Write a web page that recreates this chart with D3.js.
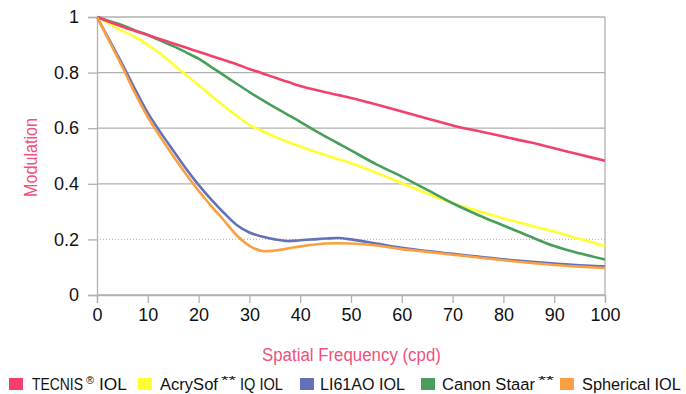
<!DOCTYPE html>
<html>
<head>
<meta charset="utf-8">
<script src="https://cdn.jsdelivr.net/npm/d3@7.8.5/dist/d3.min.js"></script>
<style>
  body { margin: 0; background: #fff; }
  svg { display: block; }
</style>
</head>
<body>
<div id="chart"></div>
<script>
// spatial frequency (cpd)
const freq = [0, 2.5, 5, 7.5, 10, 12.5, 15, 17.5, 20, 22.5, 25, 27.5, 30, 32.5, 35, 37.5, 40,
  42.5, 45, 47.5, 50, 55, 60, 65, 70, 75, 80, 85, 90, 95, 100];

const tecnis = [1, 0.982, 0.965, 0.95, 0.935, 0.92, 0.905, 0.89, 0.875, 0.86, 0.845, 0.83, 0.813,
  0.798, 0.782, 0.767, 0.752, 0.74, 0.729, 0.719, 0.709, 0.685, 0.66, 0.635, 0.61, 0.59, 0.57,
  0.55, 0.528, 0.505, 0.483];
const acrysof = [1, 0.975, 0.95, 0.928, 0.9, 0.868, 0.83, 0.792, 0.755, 0.717, 0.68, 0.645, 0.612,
  0.59, 0.57, 0.551, 0.534, 0.518, 0.503, 0.488, 0.474, 0.44, 0.402, 0.365, 0.33, 0.302, 0.276,
  0.252, 0.228, 0.202, 0.176];
const li61ao = [1, 0.915, 0.83, 0.74, 0.655, 0.585, 0.52, 0.455, 0.396, 0.343, 0.295, 0.252, 0.225,
  0.21, 0.2, 0.194, 0.197, 0.2, 0.203, 0.205, 0.2, 0.185, 0.17, 0.158, 0.148, 0.138, 0.128,
  0.12, 0.113, 0.107, 0.102];
const canon = [1, 0.985, 0.97, 0.952, 0.935, 0.915, 0.895, 0.873, 0.85, 0.82, 0.79, 0.76, 0.73,
  0.702, 0.675, 0.649, 0.623, 0.596, 0.57, 0.545, 0.52, 0.47, 0.426, 0.378, 0.33, 0.288, 0.25,
  0.212, 0.176, 0.15, 0.128];
const spherical = [1, 0.91, 0.82, 0.725, 0.64, 0.568, 0.5, 0.435, 0.375, 0.32, 0.268, 0.215, 0.177,
  0.158, 0.16, 0.167, 0.175, 0.181, 0.185, 0.186, 0.185, 0.178, 0.165, 0.155, 0.145, 0.135, 0.125,
  0.116, 0.108, 0.102, 0.097];

const seriesValues = [tecnis, acrysof, li61ao, canon, spherical];
const seriesColors = ["#f2426b", "#ffff33", "#6272b9", "#4a9e5c", "#fba040"];
// legend labels, split where a superscript sits
const legendLabels = [
  ["TECNIS", "\u00AE", "IOL"],
  ["AcrySof", "**", "IQ IOL"],
  ["LI61AO IOL"],
  ["Canon Staar", "**"],
  ["Spherical IOL"]
];
// order in which lines are painted (bottom first)
const drawOrder = [1, 3, 0, 2, 4];

const xTicks = [0, 10, 20, 30, 40, 50, 60, 70, 80, 90, 100];
const yTicks = [0, 0.2, 0.4, 0.6, 0.8, 1];

const width = 686;
const height = 394;
const margin = { top: 17, right: 81, bottom: 99, left: 97 };

const svg = d3.select("#chart").append("svg")
  .attr("width", width)
  .attr("height", height);

const x = d3.scaleLinear().domain([0, 100]).range([margin.left, width - margin.right]);
const y = d3.scaleLinear().domain([0, 1]).range([height - margin.bottom, margin.top]);

const gridColor = "#b0b0b0";
const pink = "#f2507a";
const font = "'Liberation Sans', Arial, sans-serif";

// squeeze a text horizontally to a given width (mimics the condensed face)
function condensed(parent, str, px, py, w, size, fill, rotate) {
  const t = parent.append("text")
    .style("font-family", font)
    .style("font-size", size + "px")
    .style("fill", fill)
    .text(str);
  const natural = t.node().getComputedTextLength();
  const sx = w / natural;
  t.attr("transform", `translate(${px},${py})${rotate ? " rotate(-90)" : ""} scale(${sx},1)`);
  return t;
}

// horizontal grid
svg.append("g")
  .selectAll("line")
  .data(yTicks)
  .join("line")
  .attr("x1", x(0))
  .attr("x2", x(100))
  .attr("y1", d => y(d))
  .attr("y2", d => y(d))
  .attr("stroke", d => d === 0.2 ? "#f4a0b4" : gridColor)
  .attr("stroke-dasharray", d => d === 0.2 ? "1,2" : null)
  .attr("stroke-width", 1.3);

// right frame
svg.append("line")
  .attr("x1", x(100)).attr("x2", x(100))
  .attr("y1", y(1)).attr("y2", y(0))
  .attr("stroke", gridColor)
  .attr("stroke-width", 1.3);

// axes
svg.append("g")
  .attr("transform", `translate(0,${y(0)})`)
  .call(d3.axisBottom(x).tickValues(xTicks).tickSize(8).tickPadding(5).tickFormat(d3.format("d")));

svg.append("g")
  .attr("transform", `translate(${x(0)},0)`)
  .call(d3.axisLeft(y).tickValues(yTicks).tickSize(9).tickPadding(9)
    .tickFormat(d => d === 0 || d === 1 ? d : d3.format(".1f")(d)));

svg.selectAll(".domain").attr("stroke", gridColor).attr("stroke-width", 1.3);
svg.selectAll(".tick line").attr("stroke", gridColor).attr("stroke-width", 1.3);
svg.selectAll(".tick text")
  .style("font-family", font)
  .style("font-size", "18px")
  .style("fill", "#111");

// lines
const line = d3.line()
  .x((d, i) => x(freq[i]))
  .y(d => y(d))
  .curve(d3.curveCatmullRom.alpha(0.5));

svg.append("g")
  .selectAll("path")
  .data(drawOrder)
  .join("path")
  .attr("d", i => line(seriesValues[i]))
  .attr("fill", "none")
  .attr("stroke", i => seriesColors[i])
  .attr("stroke-width", 2.6)
  .attr("stroke-linejoin", "round");

// axis titles
condensed(svg, "Spatial Frequency (cpd)", 262, 361, 179, 19, pink, false);
condensed(svg, "Modulation", 37, 197, 79, 19, pink, true);

// legend
const legendBoxX = [9, 138, 300, 421, 560];
// [x, width] of each piece of a label
const legendPieces = [
  [[32, 51], [86, 8], [99, 28]],
  [[160, 58], [221, 15], [240, 43]],
  [[320, 85]],
  [[442, 93], [538, 16]],
  [[582, 99]]
];
const legend = svg.append("g");
legendLabels.forEach((parts, i) => {
  legend.append("rect")
    .attr("x", legendBoxX[i])
    .attr("y", 378)
    .attr("width", 14)
    .attr("height", 12)
    .attr("fill", seriesColors[i]);
  parts.forEach((p, j) => {
    const sup = p === "**" || p === "\u00AE";
    const [px, pw] = legendPieces[i][j];
    condensed(legend, p, px, sup ? 384 : 390, pw, sup ? 11 : 17, "#111", false);
  });
});
</script>
</body>
</html>
